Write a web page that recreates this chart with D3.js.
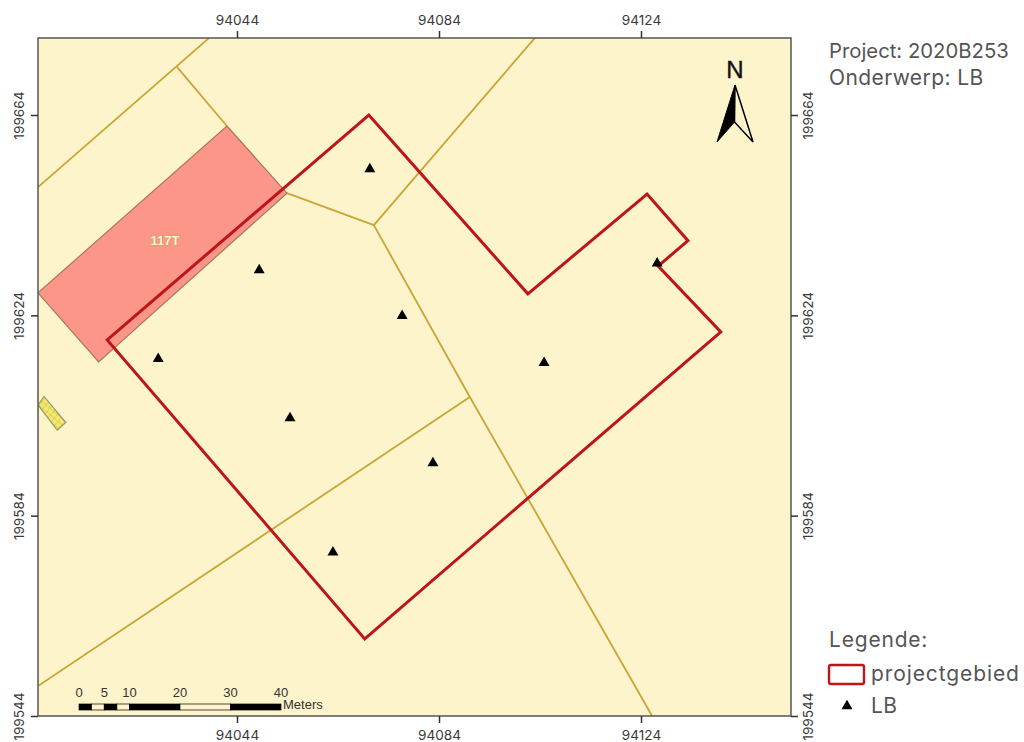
<!DOCTYPE html>
<html>
<head>
<meta charset="utf-8">
<script src="https://cdnjs.cloudflare.com/ajax/libs/d3/7.8.5/d3.min.js"></script>
<style>
html, body { margin: 0; padding: 0; background: #fff; }
svg { display: block; }
.coord text { font-family: "Inter", "Open Sans", sans-serif; font-size: 13.6px; fill: #3a3a3a; }
.coord path { display: none; }
.coord line { stroke: #333; stroke-width: 1.5; }
.label { font-family: "Inter", "Open Sans", sans-serif; fill: #555; font-size: 21px; letter-spacing: 0.4px; }
</style>
</head>
<body>
<div id="container"></div>
<script>
const xTicks = [94044, 94084, 94124];
const yTicks = [199664, 199624, 199584, 199544];

// everything below is in map units
const parcelLines = [
  [[94004.6, 199649.6], [94038.5, 199679.4]],
  [[94032.1, 199673.6], [94042.0, 199661.8]],
  [[94053.9, 199648.4], [94071.1, 199642.0], [94103.0, 199679.4]],
  [[94071.1, 199642.0], [94090.1, 199607.7], [94126.2, 199544.0]],
  [[94004.6, 199550.0], [94090.1, 199607.7]]
];
const redParcel = [[94042.0, 199661.8], [94053.9, 199648.4], [94016.6, 199614.7], [94004.6, 199628.5]];
const yellowBlock = [[94005.8, 199607.75], [94010.1, 199602.6], [94008.4, 199601.1], [94004.6, 199606.1]];
const projectArea = [
  [94070.1, 199664.0], [94101.6, 199628.3], [94125.2, 199648.2], [94133.3, 199638.9],
  [94127.4, 199633.85], [94139.8, 199620.7], [94069.3, 199559.4], [94018.3, 199619.1]
];
const lbPoints = [
  [94070.3, 199653.2], [94048.4, 199633.05], [94076.7, 199623.9], [94028.4, 199615.3],
  [94104.8, 199614.5], [94054.5, 199603.5], [94082.8, 199594.5], [94063.0, 199576.7],
  [94127.2, 199634.4]
];
const scaleStops = [0, 2.5, 5, 7.5, 10, 20, 30, 40];
const scaleLabels = [0, 5, 10, 20, 30, 40];

const frame = { left: 38, right: 791, top: 38, bottom: 716 };
const mapFill = "#fef4cb";

const svg = d3.select("#container").append("svg")
  .attr("width", 1024)
  .attr("height", 742);

const x = d3.scaleLinear().domain([94044, 94124]).range([237, 641]);
const y = d3.scaleLinear().domain([199664, 199544]).range([115, 716]);
const line = d3.line().x(d => x(d[0])).y(d => y(d[1]));
const ring = d3.line().x(d => x(d[0])).y(d => y(d[1])).curve(d3.curveLinearClosed);

const defs = svg.append("defs");
defs.append("clipPath").attr("id", "map-clip").append("rect")
  .attr("x", frame.left).attr("y", frame.top)
  .attr("width", frame.right - frame.left).attr("height", frame.bottom - frame.top);
const hatch = defs.append("pattern").attr("id", "hatch")
  .attr("width", 5).attr("height", 5)
  .attr("patternUnits", "userSpaceOnUse")
  .attr("patternTransform", "rotate(40)");
hatch.append("rect").attr("width", 5).attr("height", 5).attr("fill", "#f6ea6e");
hatch.append("path").attr("d", "M0 0H5M0 0V5").attr("stroke", "#c9b94e").attr("stroke-width", 1);

svg.append("rect")
  .attr("x", frame.left).attr("y", frame.top)
  .attr("width", frame.right - frame.left).attr("height", frame.bottom - frame.top)
  .attr("fill", mapFill);

const map = svg.append("g").attr("clip-path", "url(#map-clip)");

map.selectAll(".parcel").data(parcelLines).enter().append("path")
  .attr("class", "parcel")
  .attr("d", line)
  .attr("fill", "none")
  .attr("stroke", "#c9a535")
  .attr("stroke-width", 1.8);

map.append("path")
  .attr("d", ring(redParcel))
  .attr("fill", "#fb9689")
  .attr("stroke", "#a9755f")
  .attr("stroke-width", 1.2);

map.append("path")
  .attr("d", ring(yellowBlock))
  .attr("fill", "url(#hatch)")
  .attr("stroke", "#9c9a66")
  .attr("stroke-width", 1.2);

map.append("text")
  .attr("x", 165).attr("y", 245)
  .attr("text-anchor", "middle")
  .style("font-family", "'Liberation Sans', sans-serif")
  .style("font-size", "13px")
  .style("font-weight", "bold")
  .style("paint-order", "stroke")
  .attr("fill", mapFill)
  .attr("stroke", "#c99a6a")
  .attr("stroke-width", 1.2)
  .text("117T");

map.append("path")
  .attr("d", ring(projectArea))
  .attr("fill", "none")
  .attr("stroke", "#bd1519")
  .attr("stroke-width", 3)
  .attr("stroke-linejoin", "miter");

const triangle = d3.symbol().type(d3.symbolTriangle).size(52);
map.selectAll(".lb").data(lbPoints).enter().append("path")
  .attr("class", "lb")
  .attr("d", triangle)
  .attr("transform", d => `translate(${x(d[0])},${y(d[1])})`)
  .attr("fill", "#000");

svg.append("rect")
  .attr("x", frame.left).attr("y", frame.top)
  .attr("width", frame.right - frame.left).attr("height", frame.bottom - frame.top)
  .attr("fill", "none")
  .attr("stroke", "#555")
  .attr("stroke-width", 1.5);

// coordinate ticks on all four sides
const fmt = d3.format("d");
svg.append("g").attr("class", "coord")
  .attr("transform", `translate(0,${frame.top})`)
  .call(d3.axisTop(x).tickValues(xTicks).tickFormat(fmt).tickSize(7).tickPadding(6));
svg.append("g").attr("class", "coord")
  .attr("transform", `translate(0,${frame.bottom})`)
  .call(d3.axisBottom(x).tickValues(xTicks).tickFormat(fmt).tickSize(7).tickPadding(7));

const left = svg.append("g").attr("class", "coord")
  .attr("transform", `translate(${frame.left},0)`)
  .call(d3.axisLeft(y).tickValues(yTicks).tickFormat(fmt).tickSize(7));
left.selectAll("text")
  .attr("x", null).attr("dy", null)
  .attr("text-anchor", "middle")
  .attr("transform", "translate(-14,0) rotate(-90)");
const right = svg.append("g").attr("class", "coord")
  .attr("transform", `translate(${frame.right},0)`)
  .call(d3.axisRight(y).tickValues(yTicks).tickFormat(fmt).tickSize(7));
right.selectAll("text")
  .attr("x", null).attr("dy", null)
  .attr("text-anchor", "middle")
  .attr("transform", "translate(22,0) rotate(-90)");

// scale bar
const sb = d3.scaleLinear().domain([0, 40]).range([79, 281]);
const bar = svg.append("g");
bar.selectAll("rect").data(d3.pairs(scaleStops)).enter().append("rect")
  .attr("x", d => sb(d[0]))
  .attr("y", 704)
  .attr("width", d => sb(d[1]) - sb(d[0]))
  .attr("height", 6)
  .attr("fill", (d, i) => i % 2 ? mapFill : "#000")
  .attr("stroke", "#000")
  .attr("stroke-width", 0.7);
bar.selectAll("text").data(scaleLabels).enter().append("text")
  .attr("x", d => sb(d))
  .attr("y", 697)
  .attr("text-anchor", "middle")
  .style("font-family", "'Liberation Sans', sans-serif")
  .style("font-size", "13px")
  .attr("fill", "#333")
  .text(d => d);
bar.append("text")
  .attr("x", 283).attr("y", 709)
  .style("font-family", "'Liberation Sans', sans-serif")
  .style("font-size", "13px")
  .attr("fill", "#333")
  .text("Meters");

// north arrow
const north = svg.append("g");
north.append("text")
  .attr("x", 735).attr("y", 78)
  .attr("text-anchor", "middle")
  .style("font-family", "'Liberation Sans', sans-serif")
  .style("font-size", "24px")
  .attr("fill", "#111")
  .attr("stroke", "#111")
  .attr("stroke-width", 0.4)
  .text("N");
north.append("path").attr("d", "M735 85L717 142L734.5 122Z").attr("fill", "#000").attr("stroke", "#000");
north.append("path").attr("d", "M735 85L753 142L734.5 122Z").attr("fill", mapFill).attr("stroke", "#000").attr("stroke-width", 1.5);

// title block
svg.append("text").attr("class", "label").attr("x", 829).attr("y", 58).style("font-size", "20.3px").style("letter-spacing", "0").text("Project: 2020B253");
svg.append("text").attr("class", "label").attr("x", 829).attr("y", 85).text("Onderwerp: LB");

// legend
svg.append("text").attr("class", "label").attr("x", 829).attr("y", 647).style("letter-spacing", "0.8px").text("Legende:");
svg.append("rect")
  .attr("x", 829).attr("y", 665).attr("width", 35).attr("height", 19).attr("rx", 2)
  .attr("fill", "#fff").attr("stroke", "#bd1519").attr("stroke-width", 2.4);
svg.append("text").attr("class", "label").attr("x", 871).attr("y", 681).style("letter-spacing", "0.9px").text("projectgebied");
svg.append("path").attr("d", triangle).attr("transform", "translate(847,706)").attr("fill", "#000");
svg.append("text").attr("class", "label").attr("x", 871).attr("y", 713).text("LB");
</script>
</body>
</html>
